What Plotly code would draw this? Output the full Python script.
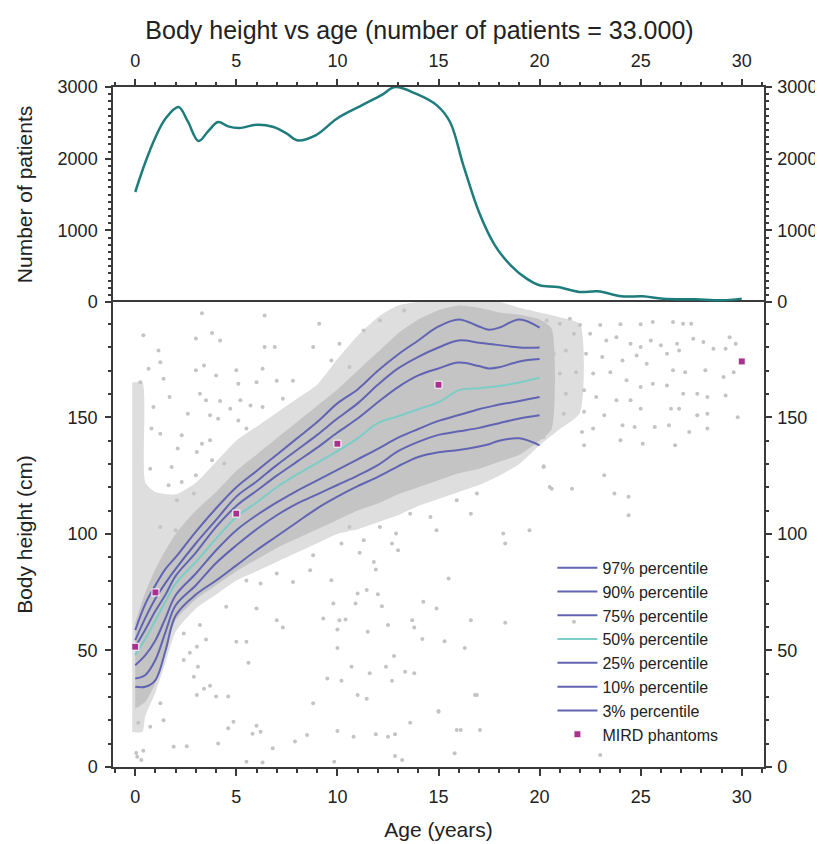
import plotly.graph_objects as go

# --- top panel: number of patients per age ---
count_age = [0, 0.5, 1, 1.5, 2.14, 2.6, 3.13, 3.6, 4.1, 4.6, 5.14, 6.05, 6.84, 7.5, 8.0, 8.92,
             9.97, 11.27, 12.2, 12.84, 13.88, 14.92, 15.57, 16.23, 17.0, 17.79, 18.57, 19.36,
             20.0, 20.9, 21.97, 22.88, 24.05, 25.1, 26.1, 27.7, 29.0, 30.0]
count_n = [1535, 1950, 2300, 2560, 2721, 2520, 2246, 2380, 2512, 2450, 2428, 2474, 2442, 2350, 2256, 2326,
           2558, 2753, 2890, 3000, 2907, 2744, 2512, 1907, 1256, 791, 512, 326,
           233, 209, 140, 149, 79, 79, 47, 37, 23, 47]

# --- bottom panel: percentile curves (cm) ---
pct_age = [0, 0.5, 1, 1.5, 2, 3, 4, 5, 6, 7, 8, 9, 10, 11, 12, 13, 14, 15, 16, 17, 17.5, 18, 19, 20]
p97 = [58.7, 70, 78, 85, 90, 101, 111, 120, 127, 134, 141, 148, 156, 162, 170, 177, 183, 189, 192, 189, 187.6, 188.5, 192, 188.5]
p90 = [54.4, 64, 72.3, 79, 85, 96, 106, 116, 122.5, 129.5, 136, 142.5, 149.5, 156, 164, 171, 176, 180, 183, 182, 181.5, 181, 180, 180]
p75 = [51.6, 59, 67, 74, 82, 92, 103, 112, 118.5, 125, 131, 137, 143.5, 149.5, 156.5, 163, 168, 171, 173.5, 172, 171, 171.5, 174, 175]
p50 = [48, 55, 63, 71, 78.7, 88, 98, 107.3, 113.5, 120, 125.5, 130.5, 135.5, 141, 147.5, 150.5, 153.5, 156.5, 161.6, 162.5, 163, 163.5, 165, 167]
p25 = [43.7, 48, 54.4, 64, 73.7, 83, 93, 101.6, 108, 113.5, 118.5, 123, 127.5, 132, 136.5, 141.3, 145, 148.5, 151, 153.5, 154.5, 155.5, 157, 158.7]
p10 = [38, 39.5, 46, 58, 69.4, 78, 87.5, 95.1, 102, 108, 113, 117, 121, 125, 129.5, 135.5, 139.5, 142.5, 144, 145.5, 146.5, 147.5, 149.5, 150.9]
p3 = [34.4, 34.4, 37.3, 50, 65, 74, 80, 86.5, 93, 99, 105, 111, 116, 120.5, 124.5, 129, 133, 135, 136, 137.5, 138.5, 140, 141, 138]

mird_age = [0, 1, 5, 10, 15, 30]
mird_height = [51.6, 74.9, 108.7, 138.7, 164, 174]

# dense core of the patient cloud
core_up_age = [0, 0.5, 1, 1.5, 2, 3, 4, 5, 6, 7, 8, 9, 10, 11, 12, 13, 14, 15, 16, 17, 18, 19, 20, 20.6]
core_up_h = [62, 75, 85, 93, 100, 110, 118, 127, 134, 141, 148, 155, 162, 170, 178, 186, 192, 196, 198, 197, 195, 194, 192, 188]
core_lo_age = [20.6, 20, 19, 18, 17, 16, 15, 14, 13, 12, 11, 10, 9, 8, 7, 6, 5, 4, 3, 2, 1.5, 1, 0.5, 0]
core_lo_h = [145, 140, 134, 131, 128, 126, 123, 120, 117, 113, 110, 106, 102, 98, 94, 89, 84, 78, 72, 63, 50, 36, 28, 25]

# looser halo around the core
halo_up_age = [-0.15, 0.35, 0.5, 1, 2, 3, 4, 5, 6, 7, 8, 9, 10, 11, 12, 13, 14, 18, 19, 20, 21, 22]
halo_up_h = [165, 165, 122, 118, 117, 122, 131, 140, 146, 152, 158, 164, 175, 185, 193, 198, 199.5, 199.5, 197, 195, 193, 190]
halo_lo_age = [22, 21, 20, 19, 18, 17, 16, 15, 14, 13, 12, 11, 10, 9, 8, 7, 6, 5, 4, 3, 2, 1.5, 1, 0.5, 0.35, -0.15]
halo_lo_h = [152, 145, 138, 130, 125, 121, 118, 115, 112, 108, 105, 102, 100, 96, 92, 88, 84, 80, 74, 68, 58, 45, 32, 22, 15, 15]

# scattered individual patients outside the cloud
dot_age = [10.2, 11.1, 12.7, 13.0, 11.8, 11.9, 15.5, 18.3, 9.7, 11.0, 11.45, 12.0, 9.8, 10.9, 12.2, 14.25, 14.9,
           10.1, 10.4, 13.7, 13.8, 16.6, 18.3, 10.0, 11.5, 12.5, 14.2, 15.3, 10.0, 16.3, 12.8, 10.7, 12.4, 11.6,
           13.35, 13.8, 10.2, 12.7, 11.0, 11.45, 16.8, 15.0, 13.6, 10.0, 15.9, 17.05, 10.8, 11.9, 12.5, 12.85,
           15.8, 12.85, 13.2, 9.84,
           8.8, 8.65, 7.8, 6.2, 5.5, 7.0, 4.5, 6.0, 7.0, 7.3, 9.3, 3.2, 2.4, 3.5, 3.05, 5.0, 5.5, 2.7, 2.4, 3.1,
           5.6, 2.9, 3.7, 3.4, 3.05, 4.0, 4.6, 1.24, 8.8, 1.4, 0.74, 0.15, 4.86, 4.6, 6.0, 6.2, 5.8, 7.9, 8.5,
           1.9, 2.55, 4.1, 6.8, 0.1, 0.4, 5.5, 6.3, 9.5, 0.05, 0.3,
           3.3, 6.4, 9.1, 0.4, 3.8, 4.2, 3.0, 1.15, 6.4, 6.9, 8.8, 0.66, 1.24, 3.0, 3.4, 5.0, 6.3, 4.0, 6.0, 7.0,
           7.8, 1.4, 0.25, 1.7, 3.2, 3.5, 5.1, 4.2, 4.7, 5.2, 5.7, 6.3, 7.3, 0.9, 2.6, 3.7, 4.1, 5.1, 5.5, 1.24,
           0.8, 2.3, 3.3, 3.7, 3.05, 2.1, 3.8, 4.4, 0.74, 1.8, 3.0, 2.3, 1.65, 2.9, 2.06, 1.24, 2.0,
           10.6, 12.9, 14.9, 16.6, 18.2, 19.5, 16.9, 15.9, 14.6, 13.6, 12.1, 11.3, 20.5, 20.2, 10.1, 11.3, 12.1,
           10.6, 13.3, 9.7,
           20.35, 21.0, 21.5, 22.0, 23.0, 24.0, 25.0, 25.6, 26.6, 27.1, 27.5, 29.4, 29.7, 20.5, 21.7, 22.5, 23.3,
           23.8, 24.5, 25.0, 25.5, 26.0, 26.8, 26.9, 27.6, 28.1, 28.6, 29.2, 20.7, 21.3, 22.3, 23.1, 24.1, 24.8,
           25.3, 26.3, 26.6, 27.2, 28.2, 29.1, 29.6, 20.35, 21.0, 21.8, 22.65, 23.5, 24.3, 25.0, 25.6, 26.3, 27.1,
           27.8, 28.3, 29.2, 20.5, 21.3, 22.2, 22.8, 23.8, 24.5, 25.0, 26.5, 26.9, 27.8, 28.3, 29.8, 20.35, 21.2,
           22.2, 23.2, 24.1, 24.7, 25.7, 26.4, 27.4, 28.3, 20.2, 22.1, 22.65, 22.2, 24.0, 25.1, 26.7, 20.2, 23.2,
           20.6, 21.6, 23.7, 24.4, 24.4,
           21.7, 24.6, 16.9, 15.0, 16.1, 23.0]
dot_height = [95.9, 91.9, 95.9, 93, 88, 84.7, 80.9, 95.9, 80.1, 74.4, 75.9, 74.1, 70.2, 70.2, 69, 70.9, 68,
              63, 63.3, 63, 59.9, 63, 61.9, 59, 58, 60.9, 54.9, 54, 51.1, 51.1, 47.6, 43, 43, 40.2,
              40.9, 40.2, 37, 37, 30.9, 29.3, 30.9, 24, 19, 15.4, 15.9, 15.9, 13, 14.1, 13, 14,
              5.9, 4.7, 3, 2.3,
              90.9, 84.4, 79.4, 78.7, 80, 83, 68.7, 68, 63, 59.9, 63.7, 60.9, 57.3, 54.7, 51.6, 53.7, 53.7, 49, 45.9, 43,
              44.7, 38.7, 34.9, 33.6, 30.9, 30.3, 30.3, 27.3, 27.3, 20.1, 17.3, 19, 19.4, 16.6, 17.7, 15.1, 14.3, 10.9, 13.7,
              8.7, 8.9, 10.1, 8, 4.4, 7, 2.3, 1.9, 38, 6, 3,
              194.7, 193.7, 190.2, 185.2, 186.2, 183, 183.8, 178.7, 180.2, 180.2, 180.2, 170.9, 173.7, 170.2, 172.3, 170.2, 170.9, 168, 165.1, 165.7,
              165.7, 166.6, 165.1, 158.7, 160.1, 157.3, 164.4, 157, 153.7, 157.3, 155.1, 154.4, 158, 154.4, 151.6, 150.9, 149.4, 148.7, 145.2, 143,
              145.2, 142.3, 138.7, 140.2, 135.1, 136.6, 131.6, 130.2, 128, 128.7, 125.2, 122.3, 120.9, 117.3, 114.4, 103, 101.6,
              103, 100.2, 101.6, 108.7, 100.2, 101.6, 117.3, 114.4, 107.3, 108.7, 103, 97.3, 120.1, 128.7, 181.6, 187.3, 191.6,
              171.6, 195.9, 174.4,
              191.6, 190.2, 192.3, 189.6, 189.6, 190, 190, 190.9, 190.9, 190.2, 190.2, 184.4, 181.6, 184.4, 185.9, 185.9, 183,
              184.4, 181.6, 180.2, 183, 180.9, 181.6, 178.7, 183.7, 182.3, 179.4, 179.4, 177.3, 178.7, 177.3, 175.9, 174.4, 176.6,
              173, 177.3, 170.2, 169.4, 170.2, 167.3, 169.4, 170.2, 168.8, 169.4, 168.8, 169.4, 165.9, 163, 164.4, 163.7, 160.1,
              160.1, 158.7, 159.4, 161.6, 160.1, 161.6, 158.7, 157.3, 157.3, 153.7, 153.7, 153.7, 150.9, 151.6, 150.1, 150.1, 151.6,
              152.4, 150.9, 146.6, 145.9, 145.9, 146.6, 143.7, 145.2, 141.6, 143.7, 145.2, 138, 140.2, 138.7, 138, 129, 125.2,
              119.4, 119.4, 117.3, 115.9, 108,
              62.3, 53, 30.9, 23.7, 15.9, 5.1]

GRAY = '#c4c4c4'
PURPLE = '#6164b2'
TEAL = '#7ccdc7'
MAGENTA = '#a8308f'
AXIS = '#3a3a3a'
FONT = 'Liberation Sans, Arial, sans-serif'

fig = go.Figure()

# cloud
fig.add_trace(go.Scatter(x=halo_up_age + halo_lo_age, y=halo_up_h + halo_lo_h, fill='toself',
                         fillcolor='#dedede', line=dict(width=0, shape='spline', smoothing=0.6), mode='lines',
                         showlegend=False, hoverinfo='skip'))
fig.add_trace(go.Scatter(x=core_up_age + core_lo_age, y=core_up_h + core_lo_h, fill='toself',
                         fillcolor=GRAY, line=dict(width=0, shape='spline', smoothing=0.6), mode='lines',
                         showlegend=False, hoverinfo='skip'))
fig.add_trace(go.Scatter(x=dot_age, y=dot_height, mode='markers',
                         marker=dict(color=GRAY, size=4), showlegend=False, hoverinfo='skip'))

percentiles = [('97% percentile', p97), ('90% percentile', p90), ('75% percentile', p75),
               ('50% percentile', p50), ('25% percentile', p25), ('10% percentile', p10),
               ('3% percentile', p3)]
for name, vals in percentiles:
    col = TEAL if name.startswith('50') else PURPLE
    fig.add_trace(go.Scatter(x=pct_age, y=vals, mode='lines', name=name,
                             line=dict(color=col, width=2, shape='spline')))

fig.add_trace(go.Scatter(x=mird_age, y=mird_height, mode='markers', name='MIRD phantoms',
                         marker=dict(symbol='square', size=7, color=MAGENTA,
                                     line=dict(color='white', width=1))))

# top panel
fig.add_trace(go.Scatter(x=count_age, y=count_n, mode='lines', xaxis='x2', yaxis='y2',
                         line=dict(color='#1f7c7d', width=2.5, shape='spline'), showlegend=False))

# dummies so the right-hand axes get drawn
fig.add_trace(go.Scatter(x=[None], y=[None], xaxis='x', yaxis='y3', showlegend=False, hoverinfo='skip'))
fig.add_trace(go.Scatter(x=[None], y=[None], xaxis='x2', yaxis='y4', showlegend=False, hoverinfo='skip'))

split = 465 / 680
tickfont = dict(family=FONT, size=18, color='#222')
titlefont = dict(family=FONT, size=21, color='#222')
common = dict(showline=True, linecolor=AXIS, linewidth=1.5, ticks='outside', tickcolor=AXIS,
              tickwidth=1.5, showgrid=False, zeroline=False, tickfont=tickfont, automargin=False)

# the page adds an 8px body margin, so margins are shifted by that much
fig.update_layout(
    width=823, height=844,
    margin=dict(l=105, r=67, t=79, b=85),
    plot_bgcolor='white', paper_bgcolor='white',
    title=dict(text='Body height vs age (number of patients = 33.000)', x=0.5, xanchor='center',
               y=0.974, yanchor='middle', font=dict(family=FONT, size=25, color='#222')),
    xaxis=dict(domain=[0, 1], anchor='y', range=[-1.1, 31.1], dtick=5, ticklen=7, mirror=True,
               minor=dict(dtick=1, ticklen=4, ticks='outside', tickcolor=AXIS),
               ticklabelstandoff=6,
               title=dict(text='Age (years)', font=titlefont, standoff=16),
               **common),
    yaxis=dict(domain=[0, split], anchor='x', range=[0, 199.5], dtick=50, ticklen=6,
               minor=dict(dtick=10, ticklen=3, ticks='outside', tickcolor=AXIS),
               ticklabelstandoff=4,
               title=dict(text='Body height (cm)', font=titlefont, standoff=29),
               **common),
    yaxis3=dict(anchor='x', overlaying='y', side='right', range=[0, 199.5], dtick=50, ticklen=6,
                minor=dict(dtick=10, ticklen=3, ticks='outside', tickcolor=AXIS),
                ticklabelstandoff=2, **common),
    xaxis2=dict(domain=[0, 1], anchor='y2', matches='x', side='top', dtick=5, ticklen=6,
                minor=dict(dtick=1, ticklen=3, ticks='outside', tickcolor=AXIS),
                ticklabelstandoff=5, **common),
    yaxis2=dict(domain=[split, 1], anchor='x2', range=[0, 3000], dtick=1000, ticklen=6,
                minor=dict(dtick=100, ticklen=3, ticks='outside', tickcolor=AXIS),
                ticklabelstandoff=4,
                title=dict(text='Number of patients', font=titlefont, standoff=19),
                **common),
    yaxis4=dict(anchor='x2', overlaying='y2', side='right', range=[0, 3000], dtick=1000, ticklen=6,
                minor=dict(dtick=100, ticklen=3, ticks='outside', tickcolor=AXIS),
                ticklabelstandoff=2, **common),
    legend=dict(x=0.675, y=0.318, xanchor='left', yanchor='top', bgcolor='rgba(0,0,0,0)',
                font=dict(family=FONT, size=16, color='#222'), tracegroupgap=0, itemwidth=40),
)

fig.write_html("out.html")
